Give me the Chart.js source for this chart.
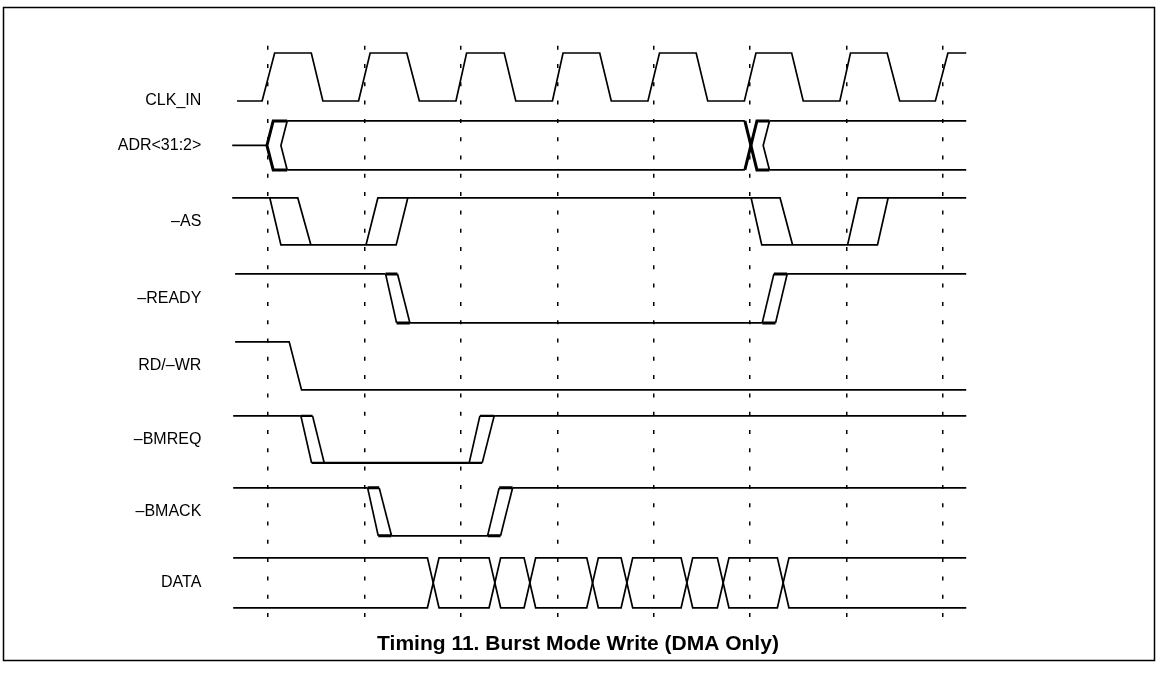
<!DOCTYPE html>
<html>
<head>
<meta charset="utf-8">
<script src="https://cdn.jsdelivr.net/npm/chart.js@4.4.1/dist/chart.umd.min.js"></script>
<style>
  html, body { margin: 0; padding: 0; background: #fff; }
  canvas { display: block; }
</style>
</head>
<body>
<canvas id="timingChart" width="1156" height="679"></canvas>
<script>
// signal names, top to bottom
const signalNames = ['CLK_IN', 'ADR<31:2>', '\u2013AS', '\u2013READY', 'RD/\u2013WR', '\u2013BMREQ', '\u2013BMACK', 'DATA'];

// vertical position of each trace's high and low level (axis units)
const highY = [1.3, 8.1, 15.8, 23.4, 30.2, 37.6, 44.8, 51.8];
const lowY = [6.1, 13.0, 20.5, 28.3, 35.0, 42.3, 49.6, 56.8];

// time axis is in clock cycles, 0 = first dashed line
const cycleLines = [0, 1, 2, 3, 4, 5, 6, 7];

// waveforms: [time, level] with 1 = high, 0 = low, 0.5 = middle
const clkWave = [[-0.32, 0], [-0.06, 0], [0.07, 1], [0.45, 1], [0.57, 0], [0.94, 0], [1.06, 1], [1.44, 1], [1.57, 0],
  [1.95, 0], [2.06, 1], [2.45, 1], [2.57, 0], [2.95, 0], [3.06, 1], [3.44, 1], [3.56, 0], [3.94, 0], [4.06, 1],
  [4.44, 1], [4.56, 0], [4.94, 0], [5.06, 1], [5.43, 1], [5.55, 0], [5.93, 0], [6.04, 1], [6.42, 1], [6.55, 0],
  [6.92, 0], [7.05, 1], [7.24, 1]];

const adrThin = [
  [[-0.37, 0.5], [-0.01, 0.5]],
  [[0.2, 1], [0.135, 0.5], [0.2, 0]],
  [[0.2, 1], [4.945, 1]],
  [[0.2, 0], [4.945, 0]],
  [[5.2, 1], [5.135, 0.5], [5.2, 0]],
  [[5.2, 1], [7.24, 1]],
  [[5.2, 0], [7.24, 0]]
];
const adrThick = [
  [[0.2, 1], [0.055, 1], [-0.01, 0.5], [0.055, 0], [0.2, 0]],
  [[4.945, 1], [5.07, 0], [5.2, 0]],
  [[4.945, 0], [5.07, 1], [5.2, 1]]
];

const asThin = [
  [[-0.37, 1], [0.31, 1], [0.446, 0]],
  [[0.02, 1], [0.135, 0], [1.33, 0], [1.45, 1]],
  [[1.017, 0], [1.14, 1], [5.31, 1], [5.44, 0]],
  [[5.01, 1], [5.12, 0], [6.32, 0], [6.43, 1]],
  [[6.01, 0], [6.12, 1], [7.24, 1]]
];

const readyThin = [
  [[-0.34, 1], [1.22, 1]],
  [[1.22, 1], [1.334, 0]],
  [[1.344, 1], [1.472, 0]],
  [[1.472, 0], [5.125, 0]],
  [[5.125, 0], [5.246, 1]],
  [[5.263, 0], [5.384, 1]],
  [[5.384, 1], [7.24, 1]]
];
const readyThick = [
  [[1.22, 1], [1.344, 1]],
  [[1.334, 0], [1.472, 0]],
  [[5.125, 0], [5.263, 0]],
  [[5.246, 1], [5.384, 1]]
];

const rdwrThin = [
  [[-0.34, 1], [0.221, 1], [0.349, 0], [7.24, 0]]
];

const bmreqThin = [
  [[-0.36, 1], [0.342, 1]],
  [[0.342, 1], [0.453, 0]],
  [[0.463, 1], [0.584, 0]],
  [[2.087, 0], [2.198, 1]],
  [[2.222, 0], [2.346, 1]],
  [[2.346, 1], [7.24, 1]]
];
const bmreqThick = [
  [[0.342, 1], [0.463, 1]],
  [[0.453, 0], [2.222, 0]],
  [[2.198, 1], [2.346, 1]]
];

const bmackThin = [
  [[-0.36, 1], [1.034, 1]],
  [[1.034, 1], [1.144, 0]],
  [[1.154, 1], [1.282, 0]],
  [[1.282, 0], [2.277, 0]],
  [[2.277, 0], [2.398, 1]],
  [[2.412, 0], [2.537, 1]],
  [[2.537, 1], [7.24, 1]]
];
const bmackThick = [
  [[1.034, 1], [1.154, 1]],
  [[1.144, 0], [1.282, 0]],
  [[2.277, 0], [2.412, 0]],
  [[2.398, 1], [2.537, 1]]
];

// DATA bus: centres of the crossovers
const dataCross = [1.714, 2.353, 2.716, 3.366, 3.722, 4.344, 4.72, 5.342];
const dataStart = -0.36;
const dataEnd = 7.24;

const titleText = 'Timing 11. Burst Mode Write (DMA Only)';

const THIN = 1.7;
const THICK = 3;

const datasets = [];

const addStroke = (sig, pts, width) => {
  datasets.push({
    data: pts.map(([t, lvl]) => ({ x: t, y: lowY[sig] + lvl * (highY[sig] - lowY[sig]) })),
    showLine: true,
    pointRadius: 0,
    borderColor: '#000',
    borderWidth: width,
    fill: false,
    tension: 0,
  });
};

// bus lines that swap over at each crossover
const busLine = (startLevel) => {
  const pts = [[dataStart, startLevel]];
  let lvl = startLevel;
  dataCross.forEach((c) => {
    pts.push([c - 0.06, lvl]);
    lvl = 1 - lvl;
    pts.push([c + 0.06, lvl]);
  });
  pts.push([dataEnd, lvl]);
  return pts;
};

addStroke(0, clkWave, THIN);
adrThin.forEach((s) => addStroke(1, s, THIN));
adrThick.forEach((s) => addStroke(1, s, THICK));
asThin.forEach((s) => addStroke(2, s, THIN));
readyThin.forEach((s) => addStroke(3, s, THIN));
readyThick.forEach((s) => addStroke(3, s, THICK));
rdwrThin.forEach((s) => addStroke(4, s, THIN));
bmreqThin.forEach((s) => addStroke(5, s, THIN));
bmreqThick.forEach((s) => addStroke(5, s, 2.4));
bmackThin.forEach((s) => addStroke(6, s, THIN));
bmackThick.forEach((s) => addStroke(6, s, THICK));
addStroke(7, busLine(1), THIN);
addStroke(7, busLine(0), THIN);

// frame, and signal names on the left
const decorations = {
  id: 'decorations',
  beforeDraw(chart) {
    const { ctx } = chart;
    ctx.save();
    ctx.fillStyle = '#fff';
    ctx.fillRect(0, 0, chart.width, chart.height);
    ctx.strokeStyle = '#000';
    ctx.lineWidth = 1.5;
    ctx.strokeRect(3.5, 7.5, 1151, 653);
    ctx.restore();
  },
  afterDatasetsDraw(chart) {
    const { ctx, scales } = chart;
    ctx.save();
    ctx.fillStyle = '#000';
    ctx.font = '16px "Liberation Sans", Arial, sans-serif';
    ctx.textAlign = 'right';
    ctx.textBaseline = 'middle';
    signalNames.forEach((name, i) => {
      const level = i === 0 ? lowY[i] : (highY[i] + lowY[i]) / 2;
      ctx.fillText(name, scales.x.getPixelForValue(-0.69), scales.y.getPixelForValue(level));
    });
    ctx.restore();
  }
};

const ctx = document.getElementById('timingChart').getContext('2d');
new Chart(ctx, {
  type: 'scatter',
  data: { datasets: datasets },
  plugins: [decorations],
  options: {
    responsive: false,
    animation: false,
    events: [],
    layout: { padding: { left: 20, right: 20, top: 40, bottom: 8 } },
    plugins: {
      legend: { display: false },
      tooltip: { enabled: false },
      title: {
        display: true,
        position: 'bottom',
        text: titleText,
        color: '#000',
        font: { family: '"Liberation Sans", Arial, sans-serif', size: 21, weight: 'bold' },
        padding: { top: 12, bottom: 14 },
      },
    },
    scales: {
      x: {
        type: 'linear',
        min: -2.57,
        max: 9.0,
        afterBuildTicks: (axis) => {
          axis.ticks = cycleLines.map((v) => ({ value: v }));
        },
        ticks: { display: false },
        grid: { color: '#000', lineWidth: 1.5, drawTicks: false },
        border: { display: false, dash: [4, 14.3], dashOffset: 12.6 },
      },
      y: {
        type: 'linear',
        reverse: true,
        min: 0,
        max: 58,
        display: false,
      },
    },
  },
});
</script>
</body>
</html>
